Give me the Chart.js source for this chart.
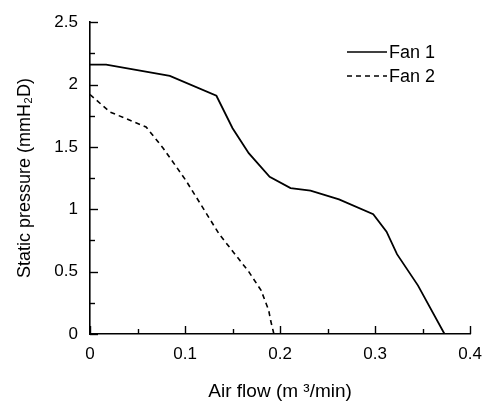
<!DOCTYPE html>
<html>
<head>
<meta charset="utf-8">
<script src="https://cdn.jsdelivr.net/npm/chart.js@4/dist/chart.umd.min.js"></script>
<style>
  html, body { margin: 0; padding: 0; background: #fff; }
  #wrap { width: 492px; height: 408px; }
</style>
</head>
<body>
<div id="wrap"><canvas id="c" width="492" height="408"></canvas></div>
<script>
// Data
const fan1X = [0, 0.017, 0.084, 0.133, 0.150, 0.167, 0.189, 0.211, 0.232, 0.262, 0.298, 0.312, 0.323, 0.345, 0.373];
const fan1Y = [2.16, 2.16, 2.07, 1.91, 1.65, 1.45, 1.26, 1.17, 1.15, 1.08, 0.96, 0.82, 0.64, 0.39, 0];
const fan2X = [0, 0.021, 0.059, 0.077, 0.101, 0.136, 0.167, 0.180, 0.188, 0.190, 0.1935];
const fan2Y = [1.92, 1.78, 1.66, 1.49, 1.23, 0.80, 0.50, 0.35, 0.19, 0.11, 0];
const seriesLabels = ['Fan 1', 'Fan 2'];
const xTitle = 'Air flow (m \u00B3/min)';
const yTitle = 'Static pressure (mmH\u2082D)';

const FONT = '"Liberation Sans", Arial, Helvetica, sans-serif';

const toPts = (xs, ys) => xs.map((x, i) => ({ x: x, y: ys[i] }));

const inwardTicks = {
  id: 'inwardTicks',
  afterDraw(chart) {
    const ctx = chart.ctx;
    const xs = chart.scales.x, ys = chart.scales.y;
    const ca = chart.chartArea;
    ctx.save();
    ctx.strokeStyle = '#000';
    ctx.lineWidth = 1.4;
    for (let i = 0; i <= 8; i++) {
      const v = i * 0.05;
      const px = Math.round(xs.getPixelForValue(v)) + 0.5;
      const len = (i % 2 === 0) ? 8 : 5;
      ctx.beginPath();
      ctx.moveTo(px, ca.bottom);
      ctx.lineTo(px, ca.bottom - len);
      ctx.stroke();
    }
    for (let i = 0; i <= 10; i++) {
      const v = i * 0.25;
      const py = Math.round(ys.getPixelForValue(v)) + 0.5;
      const len = (i % 2 === 0) ? 8 : 5;
      ctx.beginPath();
      ctx.moveTo(ca.left, py);
      ctx.lineTo(ca.left + len, py);
      ctx.stroke();
    }
    // legend
    const lx0 = 347, lx1 = 387, tx = 389;
    const rows = [52, 76];
    ctx.font = '18px ' + FONT;
    ctx.fillStyle = '#000';
    ctx.textBaseline = 'middle';
    ctx.textAlign = 'left';
    chart.data.datasets.forEach((ds, i) => {
      ctx.beginPath();
      ctx.lineWidth = 1.5;
      ctx.setLineDash(ds.borderDash || []);
      ctx.moveTo(lx0, rows[i]);
      ctx.lineTo(lx1, rows[i]);
      ctx.stroke();
      ctx.setLineDash([]);
      ctx.fillText(ds.label, tx, rows[i] + 1);
    });
    ctx.restore();
  }
};

new Chart(document.getElementById('c'), {
  type: 'scatter',
  data: {
    datasets: [
      {
        label: seriesLabels[0],
        data: toPts(fan1X, fan1Y),
        showLine: true,
        borderColor: '#000',
        borderWidth: 1.8,
        pointRadius: 0,
        tension: 0
      },
      {
        label: seriesLabels[1],
        data: toPts(fan2X, fan2Y),
        showLine: true,
        borderColor: '#000',
        borderWidth: 1.6,
        borderDash: [5, 4],
        pointRadius: 0,
        tension: 0
      }
    ]
  },
  options: {
    responsive: false,
    animation: false,
    devicePixelRatio: 1,
    layout: { padding: { left: 0, top: 20, right: 19.5, bottom: 0 } },
    plugins: { legend: { display: false }, tooltip: { enabled: false } },
    scales: {
      x: {
        type: 'linear',
        min: 0, max: 0.4,
        grid: { display: false, drawTicks: false },
        border: { display: true, color: '#000', width: 1.6 },
        ticks: {
          stepSize: 0.1,
          padding: 10,
          color: '#000',
          font: { family: FONT, size: 17 },
          maxRotation: 0,
          callback: v => String(Math.round(v * 10) / 10)
        },
        title: {
          display: true,
          text: xTitle,
          color: '#000',
          font: { family: FONT, size: 19 },
          padding: { top: 0, bottom: 5 }
        },
        afterFit: s => { s.height = 74; }
      },
      y: {
        type: 'linear',
        min: 0, max: 2.5,
        grid: { display: false, drawTicks: false },
        border: { display: true, color: '#000', width: 1.6 },
        ticks: {
          stepSize: 0.5,
          padding: 12,
          color: '#000',
          font: { family: FONT, size: 17 },
          callback: v => String(Math.round(v * 10) / 10)
        },
        title: {
          display: true,
          text: yTitle,
          color: '#000',
          font: { family: FONT, size: 18 },
          padding: { top: 14, bottom: 0 }
        },
        afterFit: s => { s.width = 90; }
      }
    }
  },
  plugins: [inwardTicks]
});
</script>
</body>
</html>
